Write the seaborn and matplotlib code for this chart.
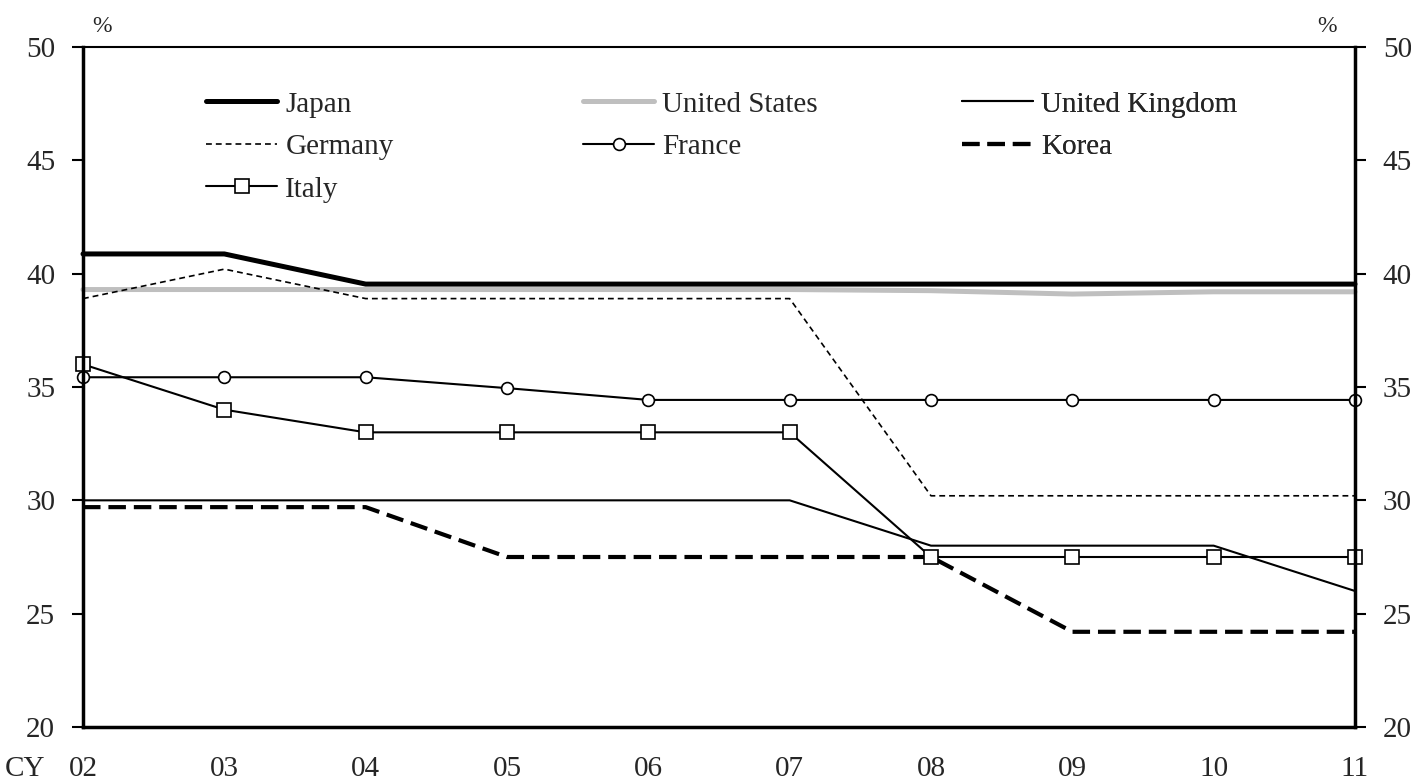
"""Corporate effective tax rates by country, CY02-11"""
import matplotlib
matplotlib.use("Agg")
import matplotlib.pyplot as plt
import seaborn as sns
import pandas as pd

# data
years = ['02', '03', '04', '05', '06', '07', '08', '09', '10', '11']
japan = [40.87, 40.87, 39.54, 39.54, 39.54, 39.54, 39.54, 39.54, 39.54, 39.54]
united_states = [39.3, 39.3, 39.3, 39.3, 39.3, 39.3, 39.25, 39.1, 39.2, 39.2]
united_kingdom = [30.0, 30.0, 30.0, 30.0, 30.0, 30.0, 28.0, 28.0, 28.0, 26.0]
germany = [38.9, 40.2, 38.9, 38.9, 38.9, 38.9, 30.2, 30.2, 30.2, 30.2]
france = [35.43, 35.43, 35.43, 34.95, 34.43, 34.43, 34.43, 34.43, 34.43, 34.43]
korea = [29.7, 29.7, 29.7, 27.5, 27.5, 27.5, 27.5, 24.2, 24.2, 24.2]
italy = [36.0, 34.0, 33.0, 33.0, 33.0, 33.0, 27.5, 27.5, 27.5, 27.5]

y_ticks = [20, 25, 30, 35, 40, 45, 50]

sns.set_style("white")
plt.rcParams['font.family'] = ['Liberation Serif', 'DejaVu Serif']

x = list(range(len(years)))
df = pd.DataFrame({'x': x})

fig = plt.figure(figsize=(14.11, 7.82), dpi=100)
ax = fig.add_axes([83 / 1411, 1 - 727 / 782, (1355 - 83) / 1411, (727 - 47) / 782])

styles = [
    ('Japan', japan, dict(color='black', lw=3.6, linestyle='-')),
    ('United States', united_states, dict(color='#bfbfbf', lw=3.6, linestyle='-')),
    ('United Kingdom', united_kingdom, dict(color='black', lw=1.5, linestyle='-')),
    ('Germany', germany, dict(color='black', lw=1.2, linestyle=(0, (3.5, 2.4)))),
    ('France', france, dict(color='black', lw=1.5, marker='o', markersize=8.5,
                            markerfacecolor='white', markeredgecolor='black', markeredgewidth=1.2)),
    ('Korea', korea, dict(color='black', lw=3.0, linestyle=(0, (4.2, 1.9)))),
    ('Italy', italy, dict(color='black', lw=1.5, marker='s', markersize=10,
                          markerfacecolor='white', markeredgecolor='black', markeredgewidth=1.2)),
]

for name, vals, kw in styles:
    df[name] = vals
    sns.lineplot(data=df, x='x', y=name, ax=ax, label=name, clip_on=False, **kw)

ax.set_xlim(0, len(years) - 1)
ax.set_ylim(20, 50)
ax.set_yticks(y_ticks)
ax.set_xticks(x)
ax.set_xticklabels(years)
ax.set_xlabel('')
ax.set_ylabel('')

ax.tick_params(axis='y', which='both', left=True, right=True, labelleft=True, labelright=True,
               direction='out', length=8, width=1.5, labelsize=21, pad=12, color='black')
ax.tick_params(axis='x', direction='in', length=9, width=1.5, labelsize=21, pad=21, color='black')

for side in ['left', 'right', 'bottom']:
    ax.spines[side].set_linewidth(2.5)
    ax.spines[side].set_color('black')
ax.spines['top'].set_linewidth(1.5)
ax.spines['top'].set_color('black')

fig.text(102 / 1411, 1 - 27 / 782, '%', fontsize=17, ha='center', va='center')
fig.text(1327 / 1411, 1 - 27 / 782, '%', fontsize=17, ha='center', va='center')
fig.text(25 / 1411, 1 - 769 / 782, 'CY', fontsize=21, ha='center', va='center')

# legend: three fixed columns, filled row by row
handles, labels = ax.get_legend_handles_labels()
ax.get_legend().remove()
columns = [[0, 3, 6], [1, 4], [2, 5]]
col_x = [206, 583, 962]
for idx, cx in zip(columns, col_x):
    leg = ax.legend([handles[i] for i in idx], [labels[i] for i in idx],
                    frameon=False, fontsize=21, loc='upper left',
                    bbox_to_anchor=((cx - 83) / 1272, 0.935), handlelength=2.45,
                    handletextpad=0.27, labelspacing=0.55, borderaxespad=0, borderpad=0)
    ax.add_artist(leg)

fig.savefig('out.png', dpi=100)
